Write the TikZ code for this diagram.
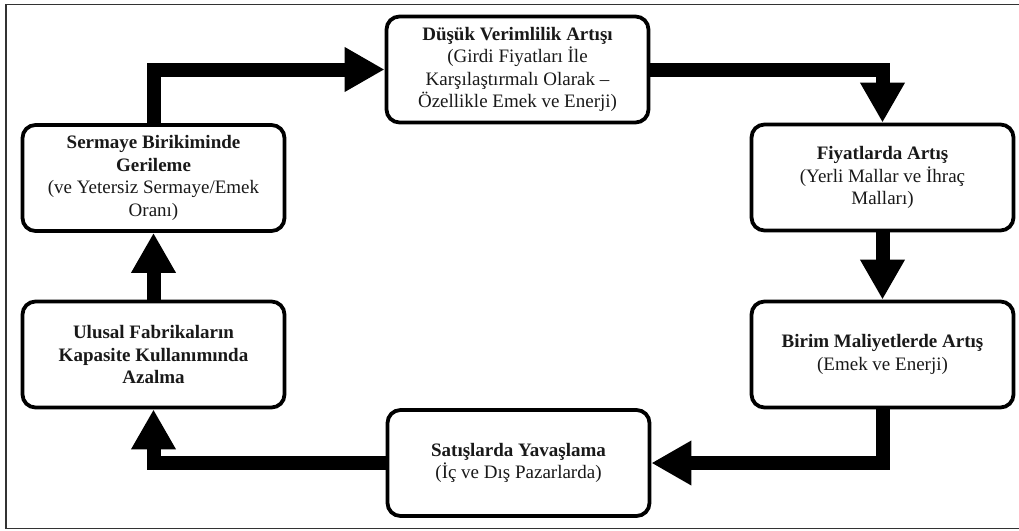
\documentclass[tikz,border=0pt]{standalone}
\usepackage{fontspec}
\setmainfont{Liberation Serif}
\usetikzlibrary{arrows.meta}
\begin{document}
\begin{tikzpicture}[x=1pt,y=-1pt,
  box/.style={draw=black, line width=3.8pt, rounded corners=13pt, fill=white,
    minimum width=262pt, minimum height=106pt, align=center, inner sep=2pt,
    font=\fontsize{19}{22.5}\selectfont, text=black!90},
  flow/.style={line width=14pt, line join=miter, line cap=butt,
    -{Triangle[length=40pt,width=42pt]}}]
\useasboundingbox (0,0) rectangle (1019,530);
\clip (0,0) rectangle (1019,530);
\draw[line width=1.8pt, draw=black!80] (6,4.5) rectangle (1030,528.5);
\node[box] (top) at (517.5,69.5) {\textbf{Düşük Verimlilik Artışı}\\(Girdi Fiyatları İle\\Karşılaştırmalı Olarak –\\Özellikle Emek ve Enerji)};
\node[box] (fiy) at (882.5,177.5) {\textbf{Fiyatlarda Artış}\\(Yerli Mallar ve İhraç\\Malları)};
\node[box] (bir) at (882.5,354.5) {\textbf{Birim Maliyetlerde Artış}\\(Emek ve Enerji)};
\node[box] (sat) at (518.5,463) {\textbf{Satışlarda Yavaşlama}\\(İç ve Dış Pazarlarda)};
\node[box] (ulu) at (153.5,354.5) {\textbf{Ulusal Fabrikaların}\\\textbf{Kapasite Kullanımında}\\\textbf{Azalma}};
\node[box] (ser) at (153.5,178) {\textbf{Sermaye Birikiminde}\\\textbf{Gerileme}\\(ve Yetersiz Sermaye/Emek\\Oranı)};
\draw[flow] (ser.north) |- (top.west);
\draw[flow] (top.east) -| (fiy.north);
\draw[flow] (fiy.south) -- (bir.north);
\draw[flow] (bir.south) |- (sat.east);
\draw[flow] (sat.west) -| (ulu.south);
\draw[flow] (ulu.north) -- (ser.south);
\end{tikzpicture}
\end{document}
